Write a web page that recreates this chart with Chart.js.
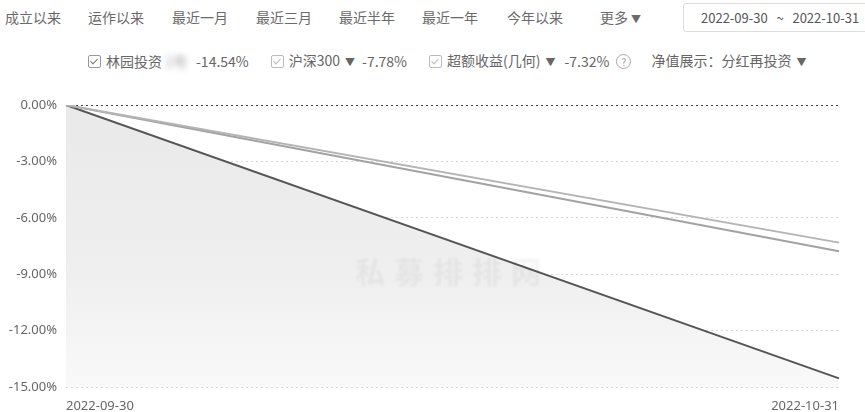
<!DOCTYPE html>
<html><head><meta charset="utf-8">
<script src="https://cdn.jsdelivr.net/npm/chart.js@4/dist/chart.umd.min.js"></script>
<style>
html,body{margin:0;padding:0;background:#fff;}
body{width:865px;height:412px;position:relative;overflow:hidden;font-family:"Noto Sans CJK SC","Noto Sans",sans-serif;color:#666;}
.tab{position:absolute;top:7px;font-size:14px;line-height:20px;color:#6a6a6a;}
.datebox{position:absolute;left:683px;top:3px;width:190px;height:29px;border:1px solid #ddd;border-radius:3px;box-sizing:border-box;font-size:13px;line-height:27px;color:#555;padding-left:17px;}
.legend{position:absolute;top:49px;left:88px;font-size:14px;line-height:20px;color:#666;white-space:nowrap;}
.legend span{display:inline-block;vertical-align:middle;}
.cb{width:11px;height:11px;border:1px solid #999;border-radius:2px;position:relative;margin-right:5px;}
.cb::after{content:"";position:absolute;left:3px;top:1px;width:3px;height:6px;border:solid #777;border-width:0 1.5px 1.5px 0;transform:rotate(45deg);}
.cb.l{border-color:#bbb;}.cb.l::after{border-color:#bbb;}
.blur{filter:blur(3px);color:#999;}
.q{width:13px;height:13px;border:1px solid #aaa;border-radius:50%;font-size:10px;line-height:13px;text-align:center;color:#999;}
#wrap{position:absolute;left:0;top:80px;width:865px;height:332px;}
.wm{position:absolute;left:355px;top:248px;font-size:30px;font-weight:bold;color:rgba(0,0,0,0.045);letter-spacing:9px;filter:blur(0.8px);}
</style></head>
<body>
<div class="tab" style="left:5px">成立以来</div>
<div class="tab" style="left:88px">运作以来</div>
<div class="tab" style="left:172px">最近一月</div>
<div class="tab" style="left:256px">最近三月</div>
<div class="tab" style="left:339px">最近半年</div>
<div class="tab" style="left:422px">最近一年</div>
<div class="tab" style="left:507px">今年以来</div>
<div class="tab" style="left:600px">更多<span style="font-size:10px;margin-left:3px">▼</span></div>
<div class="datebox">2022-09-30&nbsp;&nbsp;&nbsp;~&nbsp;&nbsp;&nbsp;2022-10-31</div>
<div class="legend" id="legend"></div>
<div id="wrap"><canvas id="c" width="865" height="332"></canvas></div>
<div class="wm">私募排排网</div>
<script>
const categories = ['2022-09-30', '2022-10-31'];
const fundName = '林园投资';
const fundValues = [0, -14.54];
const hs300Name = '沪深300';
const hs300Values = [0, -7.78];
const excessName = '超额收益(几何)';
const excessValues = [0, -7.32];
const yTicks = [0, -3, -6, -9, -12, -15];

const last = a => a[a.length - 1].toFixed(2) + '%';
document.getElementById('legend').innerHTML =
  '<span class="cb"></span><span>' + fundName + '</span><span class="blur" style="width:30px">&nbsp;1号</span><span style="margin-left:4px">' + last(fundValues) + '</span>' +
  '<span class="cb l" style="margin-left:22px"></span><span>' + hs300Name + '<span style="font-size:10px;margin-left:5px">▼</span></span><span style="margin-left:7px">' + last(hs300Values) + '</span>' +
  '<span class="cb l" style="margin-left:22px"></span><span>' + excessName + '<span style="font-size:10px;margin-left:5px">▼</span></span><span style="margin-left:9px">' + last(excessValues) + '</span>' +
  '<span class="q" style="margin-left:7px">?</span>' +
  '<span style="margin-left:20px">净值展示：分红再投资<span style="font-size:10px;margin-left:5px">▼</span></span>';

const ctx = document.getElementById('c').getContext('2d');
new Chart(ctx, {
  type: 'line',
  data: {
    labels: categories,
    datasets: [
      {label: excessName, data: excessValues, borderColor: '#b4b4b4', borderWidth: 2, pointRadius: 0, fill: false, order: 1},
      {label: hs300Name, data: hs300Values, borderColor: '#a2a2a2', borderWidth: 2, pointRadius: 0, fill: false, order: 2},
      {label: fundName, data: fundValues, borderColor: '#555555', borderWidth: 2, pointRadius: 0, order: 3,
        fill: 'start',
        backgroundColor: (c) => {
          const a = c.chart.chartArea;
          if (!a) return '#eee';
          const g = c.chart.ctx.createLinearGradient(0, a.top, 0, a.bottom);
          g.addColorStop(0, '#e9e9e9');
          g.addColorStop(0.6, '#efefef');
          g.addColorStop(1, '#f9f9f9');
          return g;
        }}
    ]
  },
  options: {
    responsive: false,
    animation: false,
    layout: {padding: {left: 0, right: 26, top: 25, bottom: 0}},
    plugins: {legend: {display: false}, tooltip: {enabled: false}},
    scales: {
      x: {
        offset: false,
        grid: {display: false, drawTicks: false},
        border: {display: false},
        ticks: {align: 'inner', maxRotation: 0, autoSkip: false, padding: 11, color: '#666', font: {size: 13, family: '"Noto Sans", sans-serif'}},
        afterFit: (s) => { s.height = 25; }
      },
      y: {
        min: -15, max: 0,
        afterBuildTicks: (s) => { s.ticks = yTicks.map(v => ({value: v})); },
        grid: {
          drawTicks: false,
          color: (c) => c.tick && c.tick.value === 0 ? '#444' : '#d8d8d8',
          lineWidth: 1
        },
        border: {display: false, dash: [2, 3]},
        ticks: {padding: 9, color: '#666', font: {size: 13, family: '"Noto Sans", sans-serif'},
          callback: (v) => Number(v).toFixed(2) + '%'},
        afterFit: (s) => { s.width = 66; }
      }
    }
  }
});
</script>
</body></html>
